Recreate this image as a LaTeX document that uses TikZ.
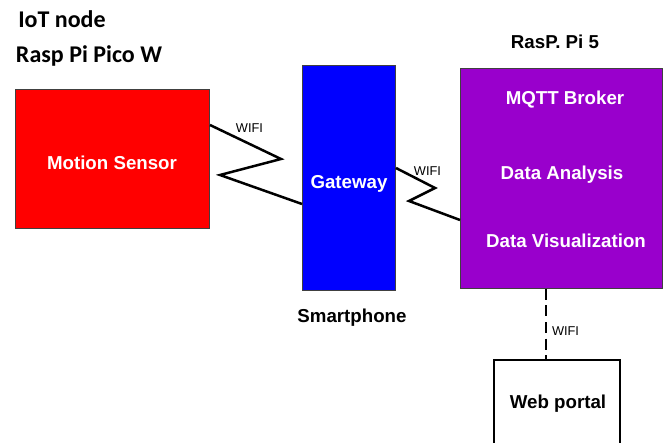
\documentclass[tikz,border=0pt]{standalone}
\usepackage{fontspec}
\setmainfont{Liberation Sans}
\newfontfamily\carlito{Carlito}
\definecolor{boxred}{HTML}{FF0000}
\definecolor{boxblue}{HTML}{0000FF}
\definecolor{boxpurple}{HTML}{9900CC}
\definecolor{edgegray}{HTML}{404040}
\begin{document}
\begin{tikzpicture}[x=1pt,y=-1pt,
  blk/.style={draw=edgegray,line width=1pt,inner sep=0pt,rectangle,anchor=north west},
  big/.style={font=\fontsize{18.7}{22}\selectfont\bfseries,anchor=base,inner sep=0pt},
  wtxt/.style={big,text=white},
  head/.style={font=\carlito\fontsize{24}{28}\selectfont\bfseries,anchor=base,inner sep=0pt},
  wifi/.style={font=\fontsize{12.8}{15}\selectfont,anchor=base,inner sep=0pt},
  zig/.style={draw=black,line width=2.5pt,line join=miter}]
\useasboundingbox (0,0) rectangle (666,443);
\clip (0,0) rectangle (666,443);
% boxes
\node[blk,fill=boxred,minimum width=194pt,minimum height=139pt] (ms) at (15,89) {};
\node[blk,fill=boxblue,minimum width=93pt,minimum height=225pt] (gw) at (302,65) {};
\node[blk,fill=boxpurple,minimum width=202pt,minimum height=220pt] (rp) at (460,68) {};
\node[draw=black,line width=2pt,inner sep=0pt,rectangle,anchor=north west,minimum width=126pt,minimum height=100pt] (wp) at (493,359) {};
% headings
\node[head] (t1) at (62,28) {IoT node};
\node[head] (t2) at (89,63) {Rasp Pi Pico W};
\node[big] (t3) at (555,49) {RasP. Pi 5};
\node[big] (t4) at (352,323) {Smartphone};
% box texts
\node[wtxt] (ms-t) at (112,170) {Motion Sensor};
\node[wtxt] (gw-t) at (349,189) {Gateway};
\node[wtxt] (rp-t1) at (565,105) {MQTT Broker};
\node[wtxt] (rp-t2) at (562,180) {Data Analysis};
\node[wtxt] (rp-t3) at (566,248) {Data Visualization};
\node[big] (wp-t) at (558,408) {Web portal};
% connectors
\draw[zig] (ms.east |- 0,125) -- (281,159) -- (220,175) -- (gw.west |- 0,204);
\draw[zig] (gw.east |- 0,168) -- (435,188) -- (409,201) -- (rp.west |- 0,220);
\draw[draw=black,line width=2.5pt,dash pattern=on 11pt off 5.5pt] (rp.south -| 546,0) -- (wp.north -| 546,0);
% wifi labels
\node[wifi] (w1) at (249.5,133) {WIFI};
\node[wifi] (w2) at (427.5,176) {WIFI};
\node[wifi] (w3) at (565.5,335) {WIFI};
\end{tikzpicture}
\end{document}
